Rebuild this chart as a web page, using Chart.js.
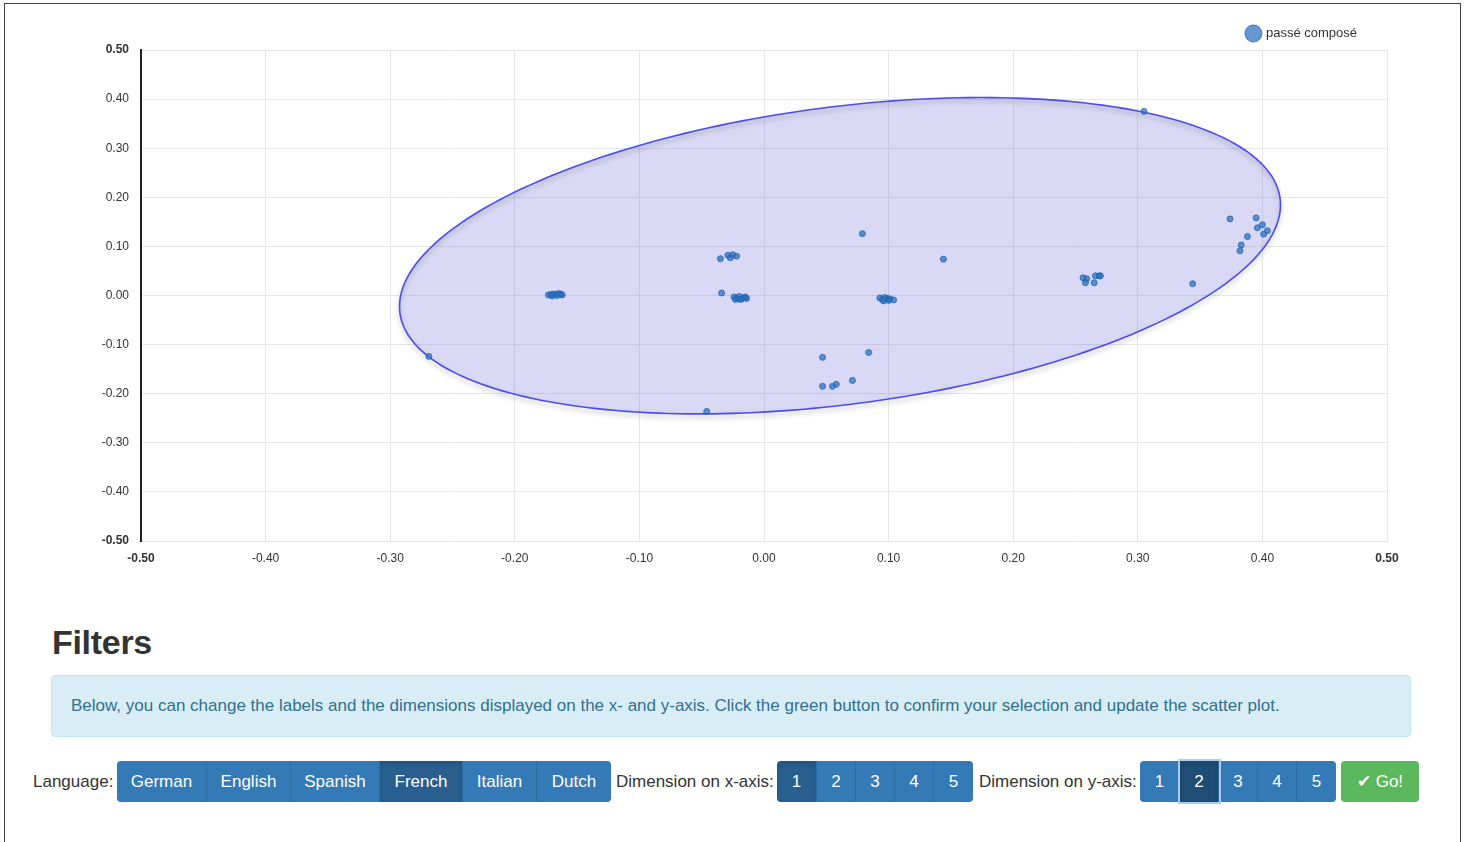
<!DOCTYPE html>
<html>
<head>
<meta charset="utf-8">
<script src="https://cdn.jsdelivr.net/npm/chart.js@4/dist/chart.umd.min.js"></script>
<style>
  html, body { margin: 0; padding: 0; background: #fff; }
  body { width: 1468px; height: 842px; position: relative; overflow: hidden;
         font-family: "Helvetica Neue", Helvetica, Arial, "Liberation Sans", sans-serif; color: #333; }
  .frame { position: absolute; left: 4px; top: 3px; width: 1455px; height: 900px; border: 1px solid #444; }
  #chartBox { position: absolute; left: 0; top: 0; width: 1468px; height: 590px; }
  h2 { position: absolute; left: 52px; top: 623px; margin: 0; font-size: 34px; font-weight: bold; color: #333; letter-spacing: -0.3px; }
  .info { position: absolute; left: 51px; top: 675px; width: 1360px; height: 62px; box-sizing: border-box;
          background: #d9edf7; border: 1px solid #bce8f1; border-radius: 4px; color: #31708f;
          font-size: 17px; line-height: 60px; padding-left: 19px; }
  .lbl { position: absolute; top: 761px; height: 41px; line-height: 41px; font-size: 17px; color: #333; }
  .grp { position: absolute; top: 761px; height: 41px; display: flex; border-radius: 4px; }
  .grp span { display: block; height: 41px; line-height: 41px; text-align: center; color: #fff; font-size: 17px;
              background: #337ab7; border-right: 1px solid #2e6da4; box-sizing: border-box; }
  .grp span:first-child { border-radius: 4px 0 0 4px; }
  .grp span:last-child { border-radius: 0 4px 4px 0; border-right: none; }
  .grp span.act { background: #285f8f; box-shadow: inset 0 3px 5px rgba(0,0,0,0.125); }
  .grp span.foc { background: #204d74; box-shadow: 0 0 0 2px #a9cdf0, inset 0 3px 5px rgba(0,0,0,0.125); position: relative; }
  .go { position: absolute; left: 1341px; top: 761px; width: 78px; height: 41px; line-height: 41px; text-align: center;
        background: #5cb85c; color: #fff; border-radius: 4px; font-size: 17px; }
</style>
</head>
<body>
<div class="frame"></div>
<div id="chartBox"><canvas id="scatter"></canvas></div>

<h2>Filters</h2>
<div class="info">Below, you can change the labels and the dimensions displayed on the x- and y-axis. Click the green button to confirm your selection and update the scatter plot.</div>

<div class="lbl" style="left:33px">Language:</div>
<div class="grp" style="left:117px">
  <span style="width:90px">German</span><span style="width:84px">English</span><span style="width:89px">Spanish</span><span class="act" style="width:83px">French</span><span style="width:74px">Italian</span><span style="width:74px">Dutch</span>
</div>
<div class="lbl" style="left:616px">Dimension on x-axis:</div>
<div class="grp" style="left:777px">
  <span class="act" style="width:40px">1</span><span style="width:39px">2</span><span style="width:39px">3</span><span style="width:39px">4</span><span style="width:39px">5</span>
</div>
<div class="lbl" style="left:979px">Dimension on y-axis:</div>
<div class="grp" style="left:1140px">
  <span style="width:40px">1</span><span class="foc" style="width:39px">2</span><span style="width:39px">3</span><span style="width:39px">4</span><span style="width:39px">5</span>
</div>
<div class="go">&#10004; Go!</div>

<script>
const seriesLabel = "passé composé";

// word positions
const pointsX = [
  -0.173, -0.171, -0.169, -0.167, -0.165, -0.163, -0.162, -0.170, -0.166,
  -0.269, -0.046,
  -0.035, -0.029, -0.027, -0.025, -0.022, -0.034,
  -0.024, -0.022, -0.020, -0.018, -0.016, -0.014, -0.023, -0.019, -0.015,
  0.079, 0.144,
  0.093, 0.095, 0.097, 0.099, 0.101, 0.104, 0.096, 0.100,
  0.047, 0.084, 0.071, 0.047, 0.055, 0.058,
  0.256, 0.259, 0.258, 0.265, 0.266, 0.269, 0.270,
  0.305, 0.344,
  0.374, 0.395, 0.400, 0.396, 0.404, 0.401, 0.388, 0.383, 0.382
];
const pointsY = [
  0.001, 0.002, 0.003, 0.002, 0.004, 0.003, 0.001, -0.001, 0.000,
  -0.124, -0.236,
  0.075, 0.082, 0.077, 0.083, 0.080, 0.005,
  -0.003, -0.006, -0.002, -0.007, -0.004, -0.006, -0.008, -0.008, -0.003,
  0.126, 0.074,
  -0.005, -0.008, -0.004, -0.006, -0.007, -0.009, -0.011, -0.010,
  -0.126, -0.116, -0.173, -0.185, -0.185, -0.181,
  0.036, 0.034, 0.026, 0.026, 0.040, 0.040, 0.040,
  0.375, 0.024,
  0.156, 0.158, 0.144, 0.138, 0.132, 0.125, 0.120, 0.103, 0.091
];

const xTickMin = -0.5, xTickMax = 0.5, yTickMin = -0.5, yTickMax = 0.5, tickStep = 0.1;

// confidence ellipse: centre and two conjugate half-axes, in data units
const ellipseCenter = [0.061, 0.081];
const ellipseAxisA = [0.3532, 0.1164];
const ellipseAxisB = [-0.0152, 0.3004];

const ellipsePlugin = {
  id: "ellipse",
  beforeDatasetsDraw(chart) {
    const { ctx, scales: { x, y } } = chart;
    ctx.save();
    ctx.beginPath();
    for (let i = 0; i <= 240; i++) {
      const t = (i / 240) * Math.PI * 2;
      const vx = ellipseCenter[0] + ellipseAxisA[0] * Math.cos(t) + ellipseAxisB[0] * Math.sin(t);
      const vy = ellipseCenter[1] + ellipseAxisA[1] * Math.cos(t) + ellipseAxisB[1] * Math.sin(t);
      const px = x.getPixelForValue(vx), py = y.getPixelForValue(vy);
      if (i === 0) ctx.moveTo(px, py); else ctx.lineTo(px, py);
    }
    ctx.closePath();
    ctx.fillStyle = "rgba(110,110,215,0.26)";
    ctx.fill();
    ctx.shadowColor = "rgba(0,0,0,0.3)";
    ctx.shadowBlur = 5;
    ctx.shadowOffsetY = 3;
    ctx.strokeStyle = "#4b4bf0";
    ctx.lineWidth = 1.6;
    ctx.stroke();
    ctx.restore();
  }
};

// nudge the legend a little left of the plot's right edge
const legendShift = {
  id: "legendShift",
  afterLayout(chart) {
    if (chart.legend) chart.legend.right -= 22;
  }
};

const tickFont = (c) => {
  const edge = c.tick && (Math.abs(c.tick.value) > 0.499);
  return { family: "'Helvetica Neue', Helvetica, Arial, 'Liberation Sans', sans-serif", size: 12, weight: edge ? "bold" : "normal" };
};

new Chart(document.getElementById("scatter"), {
  type: "scatter",
  data: {
    datasets: [{
      label: seriesLabel,
      data: pointsX.map((v, i) => ({ x: v, y: pointsY[i] })),
      backgroundColor: "rgba(40,112,190,0.72)",
      borderColor: "rgba(35,100,180,0.8)",
      borderWidth: 1,
      pointRadius: 3,
      pointHoverRadius: 4
    }]
  },
  options: {
    responsive: true,
    maintainAspectRatio: false,
    animation: false,
    layout: { padding: { left: 85, right: 81, top: 19, bottom: 9 } },
    plugins: {
      legend: {
        position: "top",
        align: "end",
        labels: {
          usePointStyle: true,
          pointStyle: "circle",
          boxWidth: 12,
          boxHeight: 12,
          padding: 8,
          color: "#333",
          font: { family: "'Helvetica Neue', Helvetica, Arial, 'Liberation Sans', sans-serif", size: 13 }
        }
      },
      tooltip: { enabled: false }
    },
    scales: {
      x: {
        type: "linear",
        min: xTickMin, max: xTickMax,
        ticks: { stepSize: tickStep, padding: 10, color: "#333", font: tickFont, callback: v => v.toFixed(2) },
        grid: { color: "#e6e6e6", drawTicks: false },
        border: { display: false },
        afterFit: s => { s.height = 40; }
      },
      y: {
        type: "linear",
        min: yTickMin, max: yTickMax,
        ticks: { stepSize: tickStep, padding: 12, color: "#333", font: tickFont, callback: v => v.toFixed(2) },
        grid: { color: "#e6e6e6", drawTicks: false },
        border: { display: true, color: "#222", width: 2 },
        afterFit: s => { s.width = 56; }
      }
    }
  },
  plugins: [ellipsePlugin, legendShift]
});
</script>
</body>
</html>
